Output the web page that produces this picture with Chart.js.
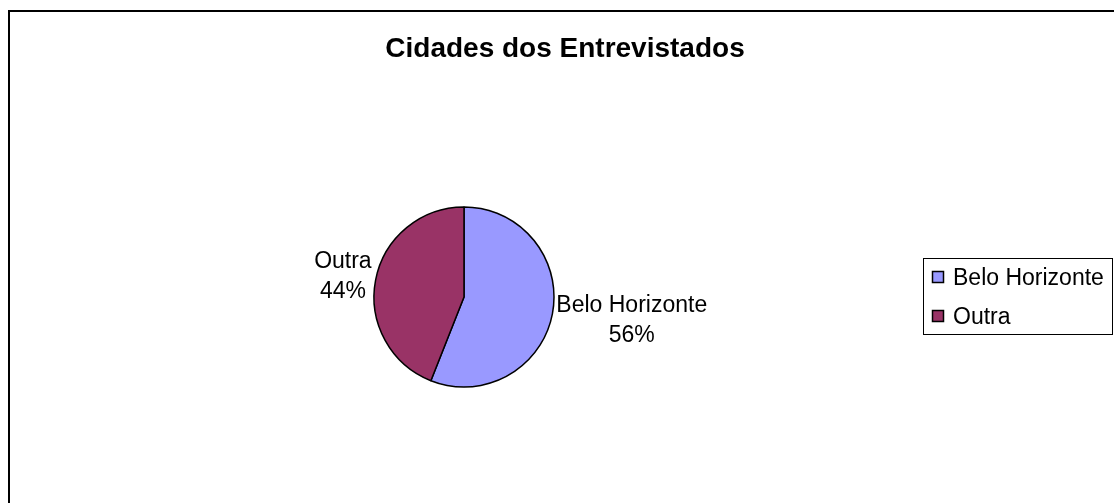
<!DOCTYPE html>
<html>
<head>
<meta charset="utf-8">
<title>Cidades dos Entrevistados</title>
<script src="https://cdn.jsdelivr.net/npm/chart.js@4.4.0/dist/chart.umd.min.js"></script>
<style>
  html, body { margin: 0; padding: 0; background: #fff; overflow: hidden; }
  canvas { display: block; }
</style>
</head>
<body>
<canvas id="pie" width="1114" height="503"></canvas>
<script>
/* ----------------------------------------------------------
   Data
   ---------------------------------------------------------- */
const TITLE = 'Cidades dos Entrevistados';
const cities = ['Belo Horizonte', 'Outra'];
const shares = [56, 44];
const sliceColors = ['#9999FF', '#993366'];

const FONT = "'Liberation Sans', Arial, sans-serif";

/* ----------------------------------------------------------
   Outer frame + title (drawn behind the pie)
   ---------------------------------------------------------- */
const framePlugin = {
  id: 'frame',
  beforeDraw(chart) {
    const ctx = chart.ctx;
    ctx.save();
    ctx.fillStyle = '#fff';
    ctx.fillRect(0, 0, chart.width, chart.height);
    // frame keeps going past the right / bottom edge
    ctx.strokeStyle = '#000';
    ctx.lineWidth = 2;
    ctx.strokeRect(9, 11, 1200, 600);

    ctx.fillStyle = '#000';
    ctx.font = `bold 28px ${FONT}`;
    ctx.textAlign = 'center';
    ctx.textBaseline = 'alphabetic';
    ctx.fillText(TITLE, 565, 57);
    ctx.restore();
  },
};

/* ----------------------------------------------------------
   "Name / NN%" labels outside each slice
   ---------------------------------------------------------- */
const sliceLabelPlugin = {
  id: 'sliceLabels',
  afterDatasetsDraw(chart) {
    const ctx = chart.ctx;
    const meta = chart.getDatasetMeta(0);
    const values = chart.data.datasets[0].data;
    const total = values.reduce((a, b) => a + b, 0);
    const lineH = 30;
    const capH = 16.5;

    ctx.save();
    ctx.font = `23px ${FONT}`;
    ctx.fillStyle = '#000';
    ctx.textAlign = 'center';
    ctx.textBaseline = 'alphabetic';

    meta.data.forEach((arc, i) => {
      const mid = (arc.startAngle + arc.endAngle) / 2;
      const r = arc.outerRadius;
      const lines = [chart.data.labels[i], Math.round(values[i] / total * 100) + '%'];
      const w = Math.max(...lines.map(t => ctx.measureText(t).width));
      const edgeX = arc.x + (r + 4) * Math.cos(mid);
      const cx = Math.cos(mid) >= 0 ? edgeX + w / 2 : edgeX - w / 2;
      const cy = arc.y + (r + 28) * Math.sin(mid);
      ctx.fillText(lines[0], cx, cy - lineH / 2 + capH / 2);
      ctx.fillText(lines[1], cx, cy + lineH / 2 + capH / 2);
    });
    ctx.restore();
  },
};

/* ----------------------------------------------------------
   Boxed legend on the right
   ---------------------------------------------------------- */
const boxLegendPlugin = {
  id: 'boxLegend',
  afterDraw(chart) {
    const ctx = chart.ctx;
    const ds = chart.data.datasets[0];
    const box = { x: 923.5, y: 258.5, w: 189, h: 76 };
    const rowTop = 277;   // cap centre of the first row
    const rowH = 39;

    ctx.save();
    ctx.strokeStyle = '#000';
    ctx.lineWidth = 1;
    ctx.strokeRect(box.x, box.y, box.w, box.h);

    ctx.font = `23px ${FONT}`;
    ctx.textAlign = 'left';
    ctx.textBaseline = 'alphabetic';
    chart.data.labels.forEach((name, i) => {
      const yc = rowTop + i * rowH;
      ctx.fillStyle = ds.backgroundColor[i];
      ctx.fillRect(932.5, yc - 5.5, 11, 11);
      ctx.lineWidth = 1.5;
      ctx.strokeRect(932.5, yc - 5.5, 11, 11);
      ctx.fillStyle = '#000';
      ctx.fillText(name, 953, yc + 8.2);
    });
    ctx.restore();
  },
};

new Chart(document.getElementById('pie'), {
  type: 'pie',
  data: {
    labels: cities,
    datasets: [{
      data: shares,
      backgroundColor: sliceColors,
      borderColor: '#000',
      borderWidth: 1.5,
      hoverOffset: 0,
      radius: 90,
    }],
  },
  options: {
    responsive: false,
    animation: false,
    events: [],
    layout: { padding: { left: 0, right: 186, top: 91, bottom: 0 } },
    plugins: {
      legend: { display: false },
      title: { display: false },
      tooltip: { enabled: false },
    },
  },
  plugins: [framePlugin, sliceLabelPlugin, boxLegendPlugin],
});
</script>
</body>
</html>
